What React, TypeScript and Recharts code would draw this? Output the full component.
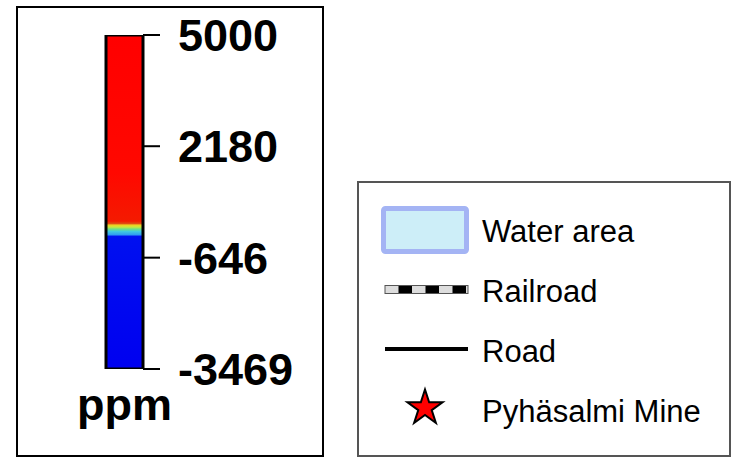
import { ComposedChart, Bar, XAxis, YAxis, Legend, Symbols } from "recharts"

// colour bar
const categories = ["ppm"]
const rangeLow = [-3469]
const rangeHigh = [5000]
const tickValues = [5000, 2180, -646, -3469]

// colour scale stops (value -> colour)
const stopValues = [5000, 1500, 280, 220, 180, 130, 80, 20, -60, -110, -3469]
const stopColors = [
  "#ff0000",
  "#ff0800",
  "#f41a00",
  "#e04a10",
  "#f0d020",
  "#c8e840",
  "#70e080",
  "#40c8e0",
  "#30a0f0",
  "#0010f0",
  "#0000f0",
]

// map legend
const legendLabels = ["Water area", "Railroad", "Road", "Pyhäsalmi Mine"]
const legendIcons = ["water", "railroad", "road", "star"]

const FONT = "'Liberation Sans', Arial, Helvetica, sans-serif"

const chartData = categories.map((name, i) => ({
  name,
  range: [rangeLow[i], rangeHigh[i]],
}))

const vMax = Math.max(...rangeHigh)
const vMin = Math.min(...rangeLow)

function LegendIcon({ type }: { type: string }) {
  if (type === "water") {
    return (
      <rect x={24.5} y={8.5} width={83} height={43} rx={2} fill="#cdeef8" stroke="#a4b4f4" strokeWidth={5} />
    )
  }
  if (type === "railroad") {
    return (
      <g>
        <rect x={26} y={25.5} width={83} height={8} fill="#dddddd" stroke="#555" strokeWidth={1} />
        <line x1={26} x2={109} y1={29.5} y2={29.5} stroke="#000" strokeWidth={7} strokeDasharray="13.5 13.5" strokeDashoffset={13.5} />
      </g>
    )
  }
  if (type === "road") {
    return <line x1={26} x2={109} y1={29} y2={29} stroke="#000" strokeWidth={4} />
  }
  return <Symbols cx={66} cy={28} type="star" size={384} fill="#ff0000" stroke="#000" strokeWidth={2} />
}

function MapLegend() {
  return (
    <div
      style={{
        boxSizing: "border-box",
        width: "100%",
        height: "100%",
        border: "2px solid #555",
        background: "#fff",
        paddingTop: 17,
      }}
    >
      {legendLabels.map((label, i) => (
        <div key={label} style={{ display: "flex", alignItems: "center", height: 60 }}>
          <svg width={123} height={60} style={{ display: "block", flex: "none" }}>
            <LegendIcon type={legendIcons[i]} />
          </svg>
          <span style={{ fontFamily: FONT, fontSize: 31, color: "#000", paddingTop: 3, whiteSpace: "nowrap" }}>
            {label}
          </span>
        </div>
      ))}
    </div>
  )
}

export default function App() {
  return (
    <div style={{ position: "absolute", left: 0, top: 0, width: 731, height: 462, background: "#fff" }}>
      <div
        style={{
          position: "absolute",
          left: 16,
          top: 6,
          width: 308,
          height: 451,
          boxSizing: "border-box",
          border: "2px solid #000",
        }}
      />
      <ComposedChart
        width={731}
        height={462}
        data={chartData}
        margin={{ top: 35, left: 106, right: 428, bottom: 33 }}
        barCategoryGap={0}
      >
        <defs>
          <linearGradient id="ppmScale" x1="0" y1="0" x2="0" y2="1">
            {stopValues.map((v, i) => (
              <stop key={i} offset={(vMax - v) / (vMax - vMin)} stopColor={stopColors[i]} />
            ))}
          </linearGradient>
        </defs>
        <XAxis
          dataKey="name"
          type="category"
          tick={false}
          tickLine={false}
          axisLine={false}
          height={60}
          label={{
            value: "ppm",
            position: "insideTop",
            offset: 19,
            fill: "#000",
            fontSize: 45,
            fontWeight: "bold",
            fontFamily: FONT,
          }}
        />
        <YAxis
          orientation="right"
          type="number"
          domain={[vMin, vMax]}
          ticks={tickValues}
          interval={0}
          allowDataOverflow
          width={160}
          axisLine={false}
          tickSize={17}
          tickMargin={18}
          tickLine={{ stroke: "#000", strokeWidth: 2 }}
          tick={{ fill: "#000", fontSize: 45, fontWeight: "bold", fontFamily: FONT }}
        />
        <Bar
          dataKey="range"
          name="ppm"
          fill="url(#ppmScale)"
          stroke="#000"
          strokeWidth={3}
          isAnimationActive={false}
        />
        <Legend
          layout="vertical"
          align="center"
          verticalAlign="middle"
          wrapperStyle={{ left: 357, top: 181, width: 374, height: 276 }}
          content={() => <MapLegend />}
        />
      </ComposedChart>
    </div>
  )
}
